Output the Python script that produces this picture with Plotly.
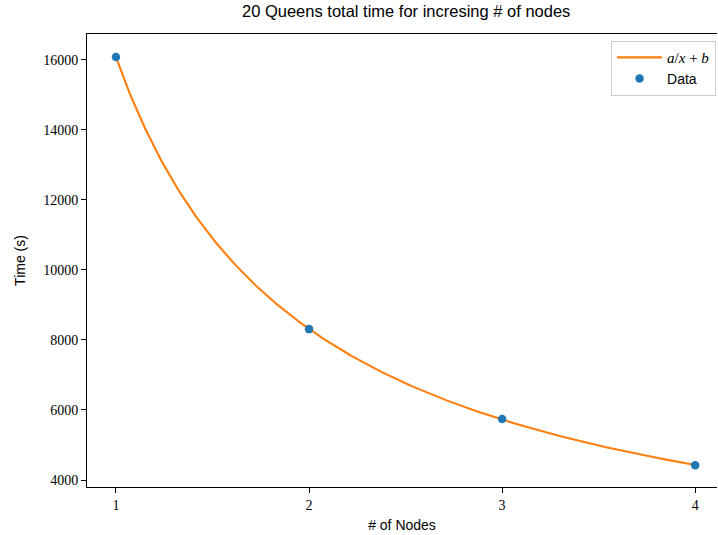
import numpy as np
import plotly.graph_objects as go

# Data
nodes = [1, 2, 3, 4]
times = [16080, 8310, 5740, 4420]
title_text = "20 Queens total time for incresing # of nodes"
y_ticks = [4000, 6000, 8000, 10000, 12000, 14000, 16000]
x_ticks = [1, 2, 3, 4]

# Least-squares fit of a/x + b to the data
xa = np.array(nodes, dtype=float)
A = np.vstack([1.0 / xa, np.ones_like(xa)]).T
(a, b), *_ = np.linalg.lstsq(A, np.array(times, dtype=float), rcond=None)
xf = np.linspace(1, 4, 300)
yf = a / xf + b

serif = "Liberation Serif, Times New Roman, serif"
sans = "Liberation Sans, Arial, sans-serif"

fig = go.Figure()
fig.add_trace(go.Scatter(
    x=xf, y=yf, mode="lines",
    name="<span style='font-family:Liberation Serif;font-size:15px'><i>a</i>/<i>x</i> + <i>b</i></span>",
    line=dict(color="#ff7f0e", width=2.1),
    legendgroup="1",
))
fig.add_trace(go.Scatter(
    x=nodes, y=times, mode="markers", name="Data",
    marker=dict(color="#1f77b4", size=8.5),
    legendgroup="2",
))

fig.update_layout(
    width=718, height=535,
    margin=dict(l=87, r=1, t=34, b=48),
    plot_bgcolor="white", paper_bgcolor="white",
    showlegend=True,
    legend=dict(
        x=0.9985, y=0.985, xanchor="right", yanchor="top",
        bordercolor="#cccccc", borderwidth=1, bgcolor="white",
        font=dict(family=sans, size=14, color="black"),
        tracegroupgap=0, itemwidth=45,
    ),
    annotations=[dict(
        text=title_text, xref="paper", yref="paper",
        x=0.506, y=1, yshift=12, xanchor="center", yanchor="bottom",
        showarrow=False, font=dict(family=sans, size=16.5, color="black"),
    )],
)
fig.update_xaxes(
    range=[0.85, 4.113], tickvals=x_ticks, ticktext=[str(v) for v in x_ticks],
    showgrid=False, zeroline=False,
    showline=True, linecolor="black", linewidth=1.1, mirror=True,
    ticks="outside", ticklen=5, tickwidth=1.1, tickcolor="black",
    tickfont=dict(family=serif, size=14, color="black"),
    title=dict(text="# of Nodes", font=dict(family=sans, size=14, color="black"), standoff=8),
)
fig.update_yaxes(
    range=[3800, 16740], tickvals=y_ticks, ticktext=[str(v) for v in y_ticks],
    showgrid=False, zeroline=False,
    showline=True, linecolor="black", linewidth=1.1, mirror=False,
    ticks="outside", ticklen=5, tickwidth=1.1, tickcolor="black",
    tickfont=dict(family=serif, size=14, color="black"),
    title=dict(text="Time (s)", font=dict(family=sans, size=14, color="black"), standoff=14),
)

fig.write_html("out.html")
